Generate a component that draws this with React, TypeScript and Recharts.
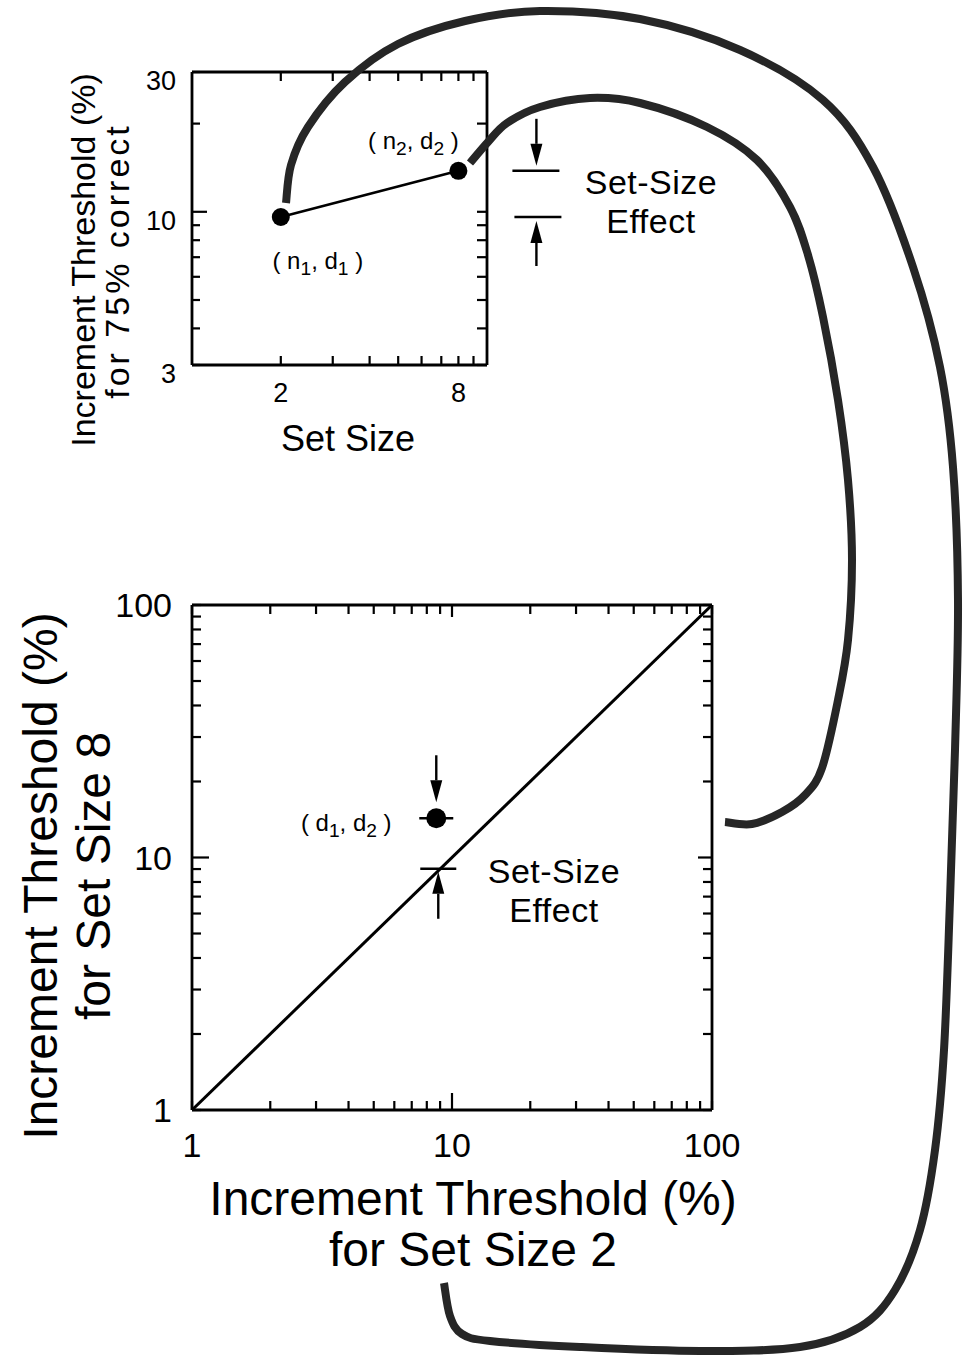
import React from 'react';
import { ComposedChart, Scatter, XAxis, YAxis, ReferenceDot } from 'recharts';

const FONT = '"Liberation Sans", Arial, Helvetica, sans-serif';

// ---------- top chart data ----------
const setSizes = [2, 8];
const topThresholds = [9.6, 13.8];
const topPointSubscripts = ['1', '2'];
const topXTicks = [2, 3, 4, 5, 6, 7, 8, 9];
const topXTickLabels = [2, 8];
const topYTicks = [3, 4, 5, 6, 7, 8, 9, 10, 20, 30];
const topYTickLabels = [3, 10, 30];
const topYMajor = [10];

// ---------- bottom chart data ----------
const d1Value = 8.7;
const d2Value = 14.3;
const identityEnds = [1, 100];
const bottomTicks = [1, 2, 3, 4, 5, 6, 7, 8, 9, 10, 20, 30, 40, 50, 60, 70, 80, 90, 100];
const bottomTickLabels = [1, 10, 100];
const bottomMajor = [10];

// ---------- connector curves (annotation, page pixels) ----------
const connectorToXAxis: number[][] = [
  [286, 203], [291, 165], [308, 127], [345, 82], [398, 44], [465, 21], [540, 11], [640, 19],
  [740, 50], [823, 100], [873, 167], [913, 267], [940, 367], [953, 467], [958, 600], [955, 750],
  [950, 900], [944, 1050], [935, 1150], [920, 1230], [895, 1290], [860, 1327], [800, 1347],
  [700, 1351], [580, 1347], [490, 1341], [462, 1334], [450, 1316], [444, 1283],
];
const connectorToYAxis: number[][] = [
  [470, 163], [488, 142], [507, 123], [540, 107], [590, 98], [640, 103], [707, 127], [757, 160],
  [790, 207], [808, 255], [823, 317], [838, 400], [848, 480], [852, 560], [848, 640], [838, 700],
  [822, 768], [805, 795], [782, 812], [752, 824], [725, 822],
];

const topData = setSizes.map((n, i) => ({ n, d: topThresholds[i], sub: topPointSubscripts[i] }));
const bottomPoint = [{ x: d1Value, y: d2Value }];
const identityData = identityEnds.map((v) => ({ x: v, y: v }));

function smoothPath(pts: number[][]) {
  let d = `M${pts[0][0]},${pts[0][1]}`;
  for (let i = 0; i < pts.length - 1; i++) {
    const p0 = pts[i - 1] || pts[i];
    const p1 = pts[i];
    const p2 = pts[i + 1];
    const p3 = pts[i + 2] || p2;
    const c1 = [p1[0] + (p2[0] - p0[0]) / 6, p1[1] + (p2[1] - p0[1]) / 6];
    const c2 = [p2[0] - (p3[0] - p1[0]) / 6, p2[1] - (p3[1] - p1[1]) / 6];
    d += ` C${c1[0]},${c1[1]} ${c2[0]},${c2[1]} ${p2[0]},${p2[1]}`;
  }
  return d;
}

type TickSpec = {
  side: 'bottom' | 'top' | 'left' | 'right';
  labels: number[];
  majors: number[];
  minor: number;
  major: number;
  fontSize: number;
  gap: number;
  shift: number;
};

const makeTick = (s: TickSpec) => (props: any) => {
  const { x, y, payload } = props;
  const v = payload.value;
  const len = s.majors.includes(v) ? s.major : s.minor;
  const show = s.labels.includes(v);
  let line: any = null;
  let label: any = null;
  const ls = { stroke: '#000', strokeWidth: 2.2 };
  if (s.side === 'bottom') {
    line = <line x1={x} y1={y} x2={x} y2={y - len} {...ls} />;
    if (show)
      label = (
        <text x={x} y={y + s.gap} textAnchor="middle" fontSize={s.fontSize} fontFamily={FONT} fill="#000">
          {v}
        </text>
      );
  } else if (s.side === 'top') {
    line = <line x1={x} y1={y} x2={x} y2={y + len} {...ls} />;
  } else if (s.side === 'left') {
    line = <line x1={x} y1={y} x2={x + len} y2={y} {...ls} />;
    if (show)
      label = (
        <text x={x - s.gap} y={y + s.shift} textAnchor="end" fontSize={s.fontSize} fontFamily={FONT} fill="#000">
          {v}
        </text>
      );
  } else {
    line = <line x1={x} y1={y} x2={x - len} y2={y} {...ls} />;
  }
  return (
    <g>
      {line}
      {label}
    </g>
  );
};

const Arrow = ({ x, from, to }: { x: number; from: number; to: number }) => {
  const dir = to > from ? 1 : -1;
  const head = 22;
  const hw = 6;
  const base = to - dir * head;
  return (
    <g>
      <line x1={x} y1={from} x2={x} y2={base} stroke="#000" strokeWidth={2.4} />
      <polygon points={`${x - hw},${base} ${x + hw},${base} ${x},${to}`} fill="#000" />
    </g>
  );
};

const PairLabel = ({ x, y, a, b, sa, sb, size }: any) => (
  <text x={x} y={y} textAnchor="middle" fontSize={size} fontFamily={FONT} fill="#000" style={{ whiteSpace: 'pre' }}>
    {'( ' + a}
    <tspan dy={6} fontSize={size * 0.8}>{sa}</tspan>
    <tspan dy={-6}>{', ' + b}</tspan>
    <tspan dy={6} fontSize={size * 0.8}>{sb}</tspan>
    <tspan dy={-6}>{' )'}</tspan>
  </text>
);

const TopPoint = (p: any) => {
  const { cx, cy, payload } = p;
  const first = payload.sub === '1';
  const lx = first ? cx + 37 : cx - 45;
  const ly = first ? cy + 52 : cy - 22;
  return (
    <g>
      <circle cx={cx} cy={cy} r={9} fill="#000" />
      <PairLabel x={lx} y={ly} a="n" b="d" sa={payload.sub} sb={payload.sub} size={24} />
    </g>
  );
};

const TopBracketDown = (p: any) => {
  const { cx, cy } = p;
  return (
    <g>
      <line x1={cx + 54} y1={cy} x2={cx + 101} y2={cy} stroke="#000" strokeWidth={2.4} />
      <Arrow x={cx + 78} from={cy - 52} to={cy - 5} />
    </g>
  );
};

const TopBracketUp = (p: any) => {
  const { cx, cy } = p;
  return (
    <g>
      <line x1={cx + 56} y1={cy} x2={cx + 103} y2={cy} stroke="#000" strokeWidth={2.4} />
      <Arrow x={cx + 78} from={cy + 49} to={cy + 4} />
    </g>
  );
};

const BottomPoint = (p: any) => {
  const { cx, cy } = p;
  return (
    <g>
      <line x1={cx - 17} y1={cy} x2={cx + 17} y2={cy} stroke="#000" strokeWidth={2.4} />
      <circle cx={cx} cy={cy} r={10} fill="#000" />
      <Arrow x={cx} from={cy - 63} to={cy - 16} />
      <PairLabel x={cx - 90} y={cy + 13} a="d" b="d" sa="1" sb="2" size={24} />
    </g>
  );
};

const DiagonalMarker = (p: any) => {
  const { cx, cy } = p;
  return (
    <g>
      <line x1={cx - 16} y1={cy - 4} x2={cx + 20} y2={cy - 4} stroke="#000" strokeWidth={2.4} />
      <Arrow x={cx + 2} from={cy + 46} to={cy - 1} />
    </g>
  );
};

const NoShape = () => <g />;

const axisLine = { stroke: '#000', strokeWidth: 2.8 };
const AX = 30; // axis box size

function TopChart() {
  const common = { type: 'number' as const, scale: 'log' as const, allowDataOverflow: true, interval: 0 as const, tickSize: 0, tickMargin: 0, tickLine: false, axisLine };
  const W = 600;
  const H = 470;
  return (
    <ComposedChart width={W} height={H} data={topData}
      margin={{ top: 72 - AX, right: W - 487 - AX, bottom: H - 365 - AX, left: 192 - AX }}>
      <XAxis {...common} xAxisId="b" orientation="bottom" dataKey="n" domain={[1, 10]} ticks={topXTicks} height={AX}
        tick={makeTick({ side: 'bottom', labels: topXTickLabels, majors: [], minor: 9, major: 9, fontSize: 27, gap: 37, shift: 0 })} />
      <XAxis {...common} xAxisId="t" orientation="top" dataKey="n" domain={[1, 10]} ticks={topXTicks} height={AX}
        tick={makeTick({ side: 'top', labels: [], majors: [], minor: 9, major: 9, fontSize: 27, gap: 0, shift: 0 })} />
      <YAxis {...common} yAxisId="l" orientation="left" dataKey="d" domain={[3, 30]} ticks={topYTicks} width={AX}
        tick={makeTick({ side: 'left', labels: topYTickLabels, majors: topYMajor, minor: 8, major: 15, fontSize: 27, gap: 16, shift: 18 })} />
      <YAxis {...common} yAxisId="r" orientation="right" dataKey="d" domain={[3, 30]} ticks={topYTicks} width={AX}
        tick={makeTick({ side: 'right', labels: [], majors: [], minor: 10, major: 10, fontSize: 27, gap: 0, shift: 0 })} />
      <Scatter xAxisId="b" yAxisId="l" data={topData} dataKey="d" isAnimationActive={false}
        line={{ stroke: '#000', strokeWidth: 2.6 }} shape={TopPoint} />
      <ReferenceDot xAxisId="b" yAxisId="l" x={setSizes[1]} y={topThresholds[1]} ifOverflow="visible" shape={TopBracketDown} />
      <ReferenceDot xAxisId="b" yAxisId="l" x={setSizes[1]} y={topThresholds[0]} ifOverflow="visible" shape={TopBracketUp} />
    </ComposedChart>
  );
}

function BottomChart() {
  const common = { type: 'number' as const, scale: 'log' as const, allowDataOverflow: true, interval: 0 as const, tickSize: 0, tickMargin: 0, tickLine: false, axisLine };
  const W = 790;
  const H = 660;
  const top = 540;
  return (
    <ComposedChart width={W} height={H} data={identityData}
      margin={{ top: 605 - top - AX, right: W - 712 - AX, bottom: top + H - 1110 - AX, left: 192 - AX }}>
      <XAxis {...common} xAxisId="b" orientation="bottom" dataKey="x" domain={[1, 100]} ticks={bottomTicks} height={AX}
        tick={makeTick({ side: 'bottom', labels: bottomTickLabels, majors: bottomMajor, minor: 9, major: 17, fontSize: 34, gap: 47, shift: 0 })} />
      <XAxis {...common} xAxisId="t" orientation="top" dataKey="x" domain={[1, 100]} ticks={bottomTicks} height={AX}
        tick={makeTick({ side: 'top', labels: [], majors: bottomMajor, minor: 9, major: 12, fontSize: 34, gap: 0, shift: 0 })} />
      <YAxis {...common} yAxisId="l" orientation="left" dataKey="y" domain={[1, 100]} ticks={bottomTicks} width={AX}
        tick={makeTick({ side: 'left', labels: bottomTickLabels, majors: bottomMajor, minor: 9, major: 17, fontSize: 34, gap: 20, shift: 12 })} />
      <YAxis {...common} yAxisId="r" orientation="right" dataKey="y" domain={[1, 100]} ticks={bottomTicks} width={AX}
        tick={makeTick({ side: 'right', labels: [], majors: bottomMajor, minor: 9, major: 14, fontSize: 34, gap: 0, shift: 0 })} />
      <Scatter xAxisId="b" yAxisId="l" data={identityData} dataKey="y" isAnimationActive={false}
        line={{ stroke: '#000', strokeWidth: 3 }} shape={NoShape} />
      <Scatter xAxisId="b" yAxisId="l" data={bottomPoint} dataKey="y" isAnimationActive={false} shape={BottomPoint} />
      <ReferenceDot xAxisId="b" yAxisId="l" x={d1Value} y={d1Value} ifOverflow="visible" shape={DiagonalMarker} />
    </ComposedChart>
  );
}

function Overlay() {
  const t = { fontFamily: FONT, fill: '#000', textAnchor: 'middle' as const };
  return (
    <svg width={963} height={1366} style={{ position: 'absolute', left: 0, top: 0, pointerEvents: 'none' }}>
      <path d={smoothPath(connectorToXAxis)} fill="none" stroke="#262626" strokeWidth={8} />
      <path d={smoothPath(connectorToYAxis)} fill="none" stroke="#262626" strokeWidth={8} />
      {/* top chart titles */}
      <text {...t} fontSize={34} transform="translate(95,260) rotate(-90)">Increment Threshold (%)</text>
      <text {...t} fontSize={34} letterSpacing={3} transform="translate(129,261) rotate(-90)">for 75% correct</text>
      <text {...t} fontSize={36} x={348} y={451}>Set Size</text>
      <text {...t} fontSize={34} letterSpacing={0.5} x={651} y={194}>Set-Size</text>
      <text {...t} fontSize={34} letterSpacing={0.5} x={651} y={233}>Effect</text>
      {/* bottom chart titles */}
      <text {...t} fontSize={34} letterSpacing={0.5} x={554} y={883}>Set-Size</text>
      <text {...t} fontSize={34} letterSpacing={0.5} x={554} y={922}>Effect</text>
      <text {...t} fontSize={48} x={473} y={1215}>Increment Threshold (%)</text>
      <text {...t} fontSize={48} x={473} y={1266}>for Set Size 2</text>
      <text {...t} fontSize={48} transform="translate(57,876) rotate(-90)">Increment Threshold (%)</text>
      <text {...t} fontSize={48} transform="translate(110,876) rotate(-90)">for Set Size 8</text>
    </svg>
  );
}

export default function App() {
  return (
    <div style={{ position: 'absolute', left: 0, top: 0, width: 963, height: 1366, background: '#fff', overflow: 'hidden' }}>
      <div style={{ position: 'absolute', left: 0, top: 0 }}>
        <TopChart />
      </div>
      <div style={{ position: 'absolute', left: 0, top: 540 }}>
        <BottomChart />
      </div>
      <Overlay />
    </div>
  );
}
